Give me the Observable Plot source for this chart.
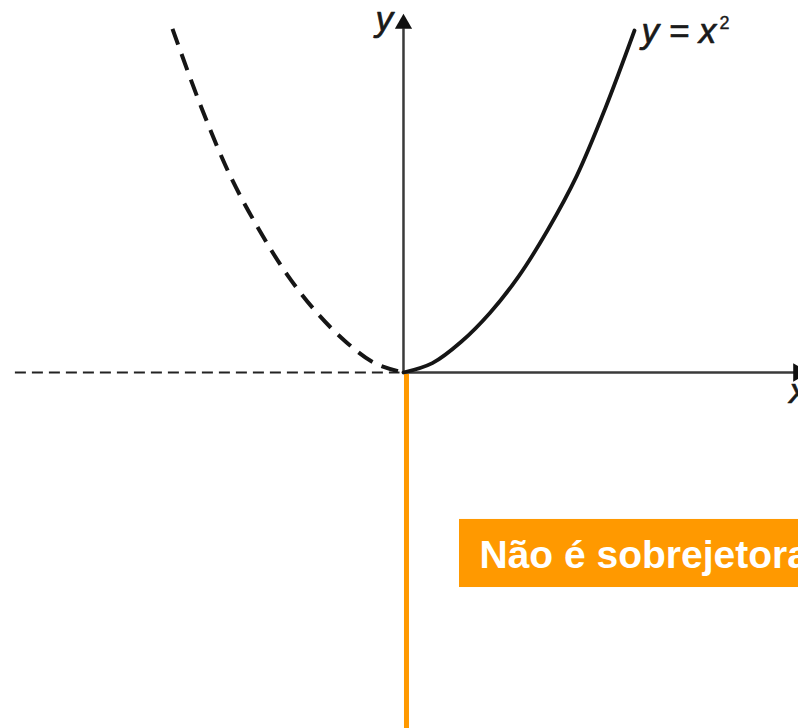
<!DOCTYPE html>
<html>
<head>
<meta charset="utf-8">
<script src="https://cdn.jsdelivr.net/npm/d3@7"></script>
<script src="https://cdn.jsdelivr.net/npm/@observablehq/plot@0.6"></script>
<style>
  html, body { margin: 0; padding: 0; background: #fff; overflow: hidden; }
  #chart svg { display: block; }
</style>
</head>
<body>
<div id="chart"></div>
<script>
// ---- data (data units: x in [-2, 2], y in [0, 4]) ----
const curveXRight = [0, 0.25, 0.5, 0.75, 1, 1.25, 1.5, 1.75, 2];
const curveYRight = [0, 0.11, 0.36, 0.70, 1.13, 1.67, 2.30, 3.10, 4.0];
const curveXLeft  = [-2, -1.75, -1.5, -1.25, -1, -0.75, -0.5, -0.25, 0];
const curveYLeft  = [4.02, 3.10, 2.30, 1.67, 1.13, 0.70, 0.36, 0.11, 0];

// axes extents
const xAxisDashedX = [-3.36, -0.03];
const xAxisSolidX  = [0, 3.42];
const yAxisTop     = 4.02;
const yArrowPos    = [0, 4.08];
const xArrowPos    = [3.42, 0];

// labels
const axisLabelY    = {text: "y", x: -0.09, y: 4.13};
const axisLabelX    = {text: "x", x: 3.34, y: -0.22};
const curveLabel    = {text: "y = x", x: 2.06, y: 3.99};
const curveLabelSup = {text: "2", x: 2.736, y: 4.09};

// orange annotation
const orangeLineX  = 0.026;
const orangeLineY  = [-0.02, -4.2];
const boxX         = [0.485, 3.5];
const boxY         = [-1.719, -2.515];
const boxText      = {text: "Não é sobrejetora", x: 0.658, y: -2.146};

const rightPts = curveXRight.map((x, i) => ({x, y: curveYRight[i]}));
const leftPts  = curveXLeft.map((x, i) => ({x, y: curveYLeft[i]}));

const font = "'Liberation Sans', Arial, sans-serif";
const labelStyle = {x: "x", y: "y", text: "text", fill: "#1a1a1a", stroke: "#1a1a1a", strokeWidth: 0.7, fontFamily: font};

const chart = Plot.plot({
  width: 798,
  height: 728,
  margin: 0,
  x: {domain: [-3.489, 3.42], axis: null},
  y: {domain: [-4.164, 4.351], axis: null},
  style: {background: "#fff", fontFamily: font, overflow: "visible"},
  marks: [
    // orange annotation
    Plot.ruleX([orangeLineX], {y1: orangeLineY[0], y2: orangeLineY[1], stroke: "#ff9900", strokeWidth: 5}),
    Plot.rect([{x1: boxX[0], x2: boxX[1], y1: boxY[0], y2: boxY[1]}], {x1: "x1", x2: "x2", y1: "y1", y2: "y2", fill: "#ff9900"}),
    Plot.text([boxText], {x: "x", y: "y", text: "text", fill: "#fff", fontSize: 39, fontWeight: "bold", textAnchor: "start", fontFamily: font}),
    // axes
    Plot.ruleY([0], {x1: xAxisDashedX[0], x2: xAxisDashedX[1], stroke: "#222", strokeWidth: 2.2, strokeDasharray: "11,6"}),
    Plot.ruleY([0], {x1: xAxisSolidX[0], x2: xAxisSolidX[1], stroke: "#3a3a3a", strokeWidth: 2.5}),
    Plot.ruleX([0], {y1: 0, y2: yAxisTop, stroke: "#3a3a3a", strokeWidth: 2.5}),
    Plot.dot([yArrowPos], {x: d => d[0], y: d => d[1], symbol: "triangle", r: 6.4, fill: "#111", stroke: null}),
    Plot.dot([xArrowPos], {x: d => d[0], y: d => d[1], symbol: "triangle", r: 6.8, rotate: 90, fill: "#111", stroke: null}),
    // curve
    Plot.line(leftPts, {x: "x", y: "y", curve: "catmull-rom", stroke: "#151515", strokeWidth: 4, strokeDasharray: "17,10", strokeLinecap: "butt"}),
    Plot.line(rightPts, {x: "x", y: "y", curve: "catmull-rom", stroke: "#151515", strokeWidth: 3.8}),
    // labels
    Plot.text([axisLabelY], {...labelStyle, fontSize: 35, fontStyle: "italic", textAnchor: "end"}),
    Plot.text([axisLabelX], {...labelStyle, fontSize: 35, fontStyle: "italic", textAnchor: "start"}),
    Plot.text([curveLabel], {...labelStyle, fontSize: 35, fontStyle: "italic", textAnchor: "start"}),
    Plot.text([curveLabelSup], {...labelStyle, fontSize: 18, strokeWidth: 0.4, textAnchor: "start"})
  ]
});
document.getElementById("chart").appendChild(chart);
</script>
</body>
</html>
